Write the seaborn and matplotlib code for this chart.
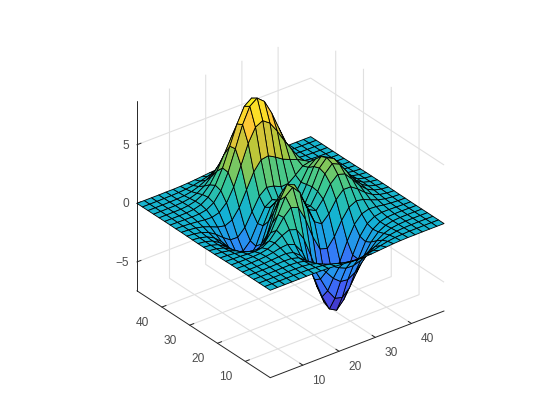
import numpy as np
import seaborn as sns
import matplotlib
matplotlib.use('Agg')
import matplotlib.pyplot as plt
from matplotlib.colors import LinearSegmentedColormap

# estimated heights, one row per y value, one column per x value
x_vals = [1, 3, 5, 7, 9, 11, 13, 15, 17, 19, 21, 23, 25, 27, 29, 31, 33, 35, 37, 39, 41, 43, 45, 47, 49]
y_vals = [1, 3, 5, 7, 9, 11, 13, 15, 17, 19, 21, 23, 25, 27, 29, 31, 33, 35, 37, 39, 41, 43, 45, 47, 49]
heights = [
    [0, 0, .001, .002, .004, .005, .004, -.006, -.03, -.08, -.14, -.2, -.25, -.25, -.22, -.17, -.11, -.06, -.03, -.01, -.01, 0, 0, 0, 0],
    [0, .001, .002, .004, .008, .011, .005, -.03, -.1, -.22, -.39, -.56, -.68, -.7, -.61, -.46, -.3, -.17, -.08, -.04, -.01, -.01, 0, 0, 0],
    [0, .001, .003, .008, .015, .018, .004, -.07, -.24, -.53, -.91, -1.3, -1.57, -1.6, -1.4, -1.06, -.69, -.38, -.18, -.08, -.03, -.01, 0, 0, 0],
    [0, .002, .006, .014, .028, .035, .011, -.12, -.44, -.99, -1.74, -2.51, -3.02, -3.1, -2.72, -2.05, -1.33, -.74, -.35, -.14, -.05, -.01, 0, 0, 0],
    [.001, .003, .009, .023, .05, .07, .05, -.13, -.59, -1.45, -2.64, -3.88, -4.76, -4.93, -4.35, -3.27, -2.1, -1.15, -.53, -.2, -.06, -.01, 0, 0, 0],
    [0, .003, .01, .03, .07, .12, .16, .02, -.47, -1.48, -3.01, -4.7, -5.98, -6.33, -5.65, -4.25, -2.69, -1.42, -.61, -.21, -.04, 0, .01, 0, 0],
    [0, 0, .01, .03, .08, .18, .33, .39, .15, -.68, -2.18, -4.07, -5.68, -6.32, -5.76, -4.32, -2.64, -1.28, -.44, -.07, .05, .05, .03, .01, 0],
    [0, -.01, -.01, -.01, .03, .16, .45, .83, 1.1, .88, -.13, -1.84, -3.6, -4.6, -4.4, -3.22, -1.74, -.56, .08, .27, .23, .13, .06, .02, .01],
    [-.01, -.03, -.06, -.1, -.13, -.04, .31, .98, 1.85, 2.45, 2.23, .99, -.73, -2.02, -2.23, -1.43, -.28, .58, .89, .77, .5, .26, .11, .04, .01],
    [-.02, -.05, -.12, -.25, -.42, -.51, -.28, .49, 1.78, 3.08, 3.63, 2.94, 1.4, -.01, -.42, .2, 1.17, 1.79, 1.78, 1.35, .82, .41, .17, .06, .02],
    [-.03, -.08, -.2, -.44, -.79, -1.16, -1.21, -.6, .8, 2.49, 3.56, 3.3, 2.0, .7, .38, 1.14, 2.19, 2.76, 2.56, 1.87, 1.12, .56, .24, .09, .03],
    [-.03, -.1, -.27, -.6, -1.14, -1.77, -2.16, -1.83, -.56, 1.23, 2.57, 2.62, 1.59, .53, .47, 1.49, 2.75, 3.37, 3.09, 2.24, 1.34, .67, .28, .1, .03],
    [-.04, -.11, -.3, -.69, -1.33, -2.14, -2.77, -2.71, -1.65, .07, 1.49, 1.75, .98, .19, .37, 1.57, 2.93, 3.58, 3.26, 2.36, 1.4, .7, .29, .11, .03],
    [-.04, -.11, -.29, -.67, -1.31, -2.15, -2.87, -2.97, -2.14, -.64, .69, 1.05, .52, -.03, .28, 1.46, 2.75, 3.36, 3.06, 2.21, 1.32, .65, .28, .1, .03],
    [-.03, -.09, -.25, -.57, -1.12, -1.85, -2.49, -2.64, -2.0, -.76, .39, .79, .46, .09, .37, 1.34, 2.37, 2.84, 2.56, 1.84, 1.09, .54, .23, .08, .03],
    [-.02, -.07, -.18, -.42, -.81, -1.33, -1.76, -1.78, -1.16, -.04, 1.04, 1.55, 1.42, 1.12, 1.17, 1.65, 2.17, 2.32, 1.99, 1.4, .82, .4, .17, .06, .02],
    [-.01, -.04, -.11, -.25, -.48, -.74, -.87, -.6, .23, 1.51, 2.8, 3.58, 3.69, 3.34, 2.93, 2.66, 2.43, 2.09, 1.58, 1.04, .58, .28, .11, .04, .01],
    [-.01, -.02, -.06, -.12, -.2, -.22, -.05, .55, 1.69, 3.28, 4.92, 6.06, 6.38, 5.93, 5.02, 3.96, 2.97, 2.09, 1.35, .79, .41, .19, .07, .03, .01],
    [0, -.01, -.02, -.03, -.01, .11, .48, 1.28, 2.61, 4.38, 6.2, 7.53, 7.99, 7.47, 6.25, 4.72, 3.25, 2.06, 1.18, .62, .29, .12, .05, .02, 0],
    [0, 0, 0, .01, .07, .24, .64, 1.43, 2.67, 4.29, 5.96, 7.22, 7.68, 7.19, 5.99, 4.45, 2.96, 1.78, .96, .47, .2, .08, .03, .01, 0],
    [0, 0, .01, .02, .08, .23, .55, 1.16, 2.1, 3.31, 4.56, 5.5, 5.86, 5.49, 4.57, 3.37, 2.21, 1.29, .67, .32, .13, .05, .02, .01, 0],
    [0, 0, .01, .02, .06, .16, .36, .74, 1.32, 2.07, 2.84, 3.43, 3.65, 3.43, 2.84, 2.09, 1.36, .79, .4, .19, .08, .03, .01, 0, 0],
    [0, 0, 0, .01, .03, .08, .19, .39, .69, 1.07, 1.46, 1.77, 1.88, 1.77, 1.46, 1.07, .69, .4, .2, .09, .04, .01, 0, 0, 0],
    [0, 0, 0, .01, .02, .04, .09, .17, .3, .47, .64, .77, .82, .77, .64, .47, .3, .17, .09, .04, .02, .01, 0, 0, 0],
    [0, 0, 0, 0, .01, .01, .03, .06, .11, .17, .23, .28, .3, .28, .23, .17, .11, .06, .03, .01, .01, 0, 0, 0, 0],
]
xy_ticks = [10, 20, 30, 40]
z_ticks = [-5, 0, 5]

parula = LinearSegmentedColormap.from_list('parula', [
    '#3e26a8', '#4852f4', '#2d87f7', '#12b1d6', '#37c897',
    '#abc739', '#fec338', '#f9fb14'])
text_col = (0.15, 0.15, 0.15)

sns.set_style('white', {'grid.color': '#e0e0e0', 'axes.grid': True})
plt.rcParams['font.family'] = ['Liberation Sans', 'DejaVu Sans']
plt.rcParams['grid.linewidth'] = 0.8

fig = plt.figure(figsize=(5.6, 4.2), dpi=100)
ax = fig.add_axes([4.8 / 560, -1.7 / 420, 1, 1], projection='3d', proj_type='ortho')
ax.view_init(elev=30, azim=-127.5)
ax.set_box_aspect((1, 1, 1), zoom=0.877)

X, Y = np.meshgrid(x_vals, y_vals)
Z = np.array(heights)
ax.plot_surface(X, Y, Z, rstride=1, cstride=1, cmap=parula, vmin=-6.55, vmax=8.1,
                edgecolor='black', linewidth=0.6, antialiased=True)

ax.set_xlim(1, 49)
ax.set_ylim(1, 49)
ax.set_zlim(-7.46, 8.73)
ax.set_xticks(xy_ticks)
ax.set_yticks(xy_ticks)
ax.set_zticks(z_ticks)

for axis in [ax.xaxis, ax.yaxis, ax.zaxis]:
    axis.set_pane_color((1, 1, 1, 0))
    axis.pane.set_edgecolor((1, 1, 1, 0))
    axis.line.set_color(text_col)
    axis.line.set_linewidth(0.7)
    axis._axinfo['tick']['inward_factor'] = 0.0
    axis._axinfo['tick']['outward_factor'] = 0.3
    axis._axinfo['tick']['linewidth'] = {True: 0.7, False: 0.5}
    axis._axinfo['tick']['color'] = text_col
ax.tick_params(labelsize=8.6, labelcolor=(0.3, 0.3, 0.3))
ax.tick_params(axis='x', pad=2.5)
ax.tick_params(axis='y', pad=3.5)
ax.tick_params(axis='z', pad=-4)

plt.setp(ax.get_xticklabels(), ha='left', va='baseline')
plt.setp(ax.get_yticklabels(), ha='right', va='baseline')
plt.setp(ax.get_zticklabels(), ha='right', va='center_baseline')

fig.savefig('out.png', dpi=100)
